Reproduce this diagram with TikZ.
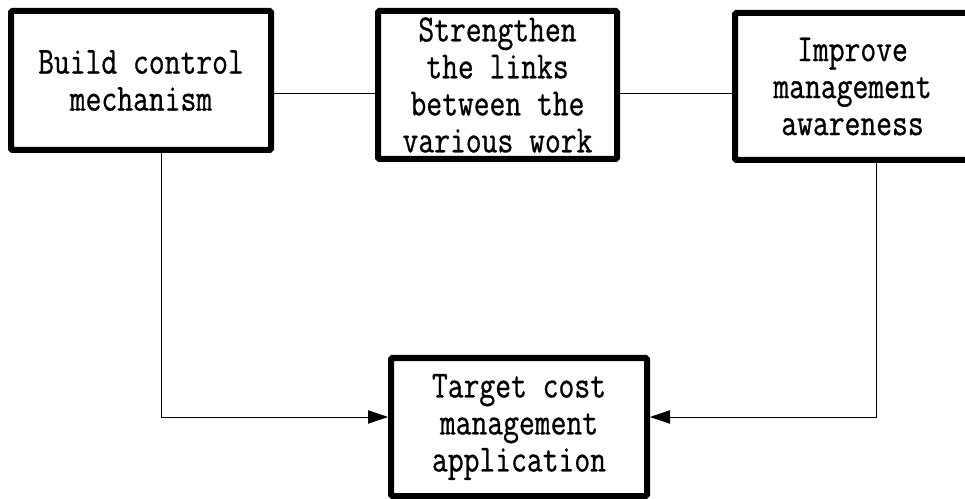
\documentclass[tikz,border=0pt]{standalone}
\usepackage{fontspec}
\usetikzlibrary{arrows.meta}
\newfontfamily\boxfont[FakeStretch=0.8,FakeBold=0.7]{Latin Modern Mono}
\begin{document}
\begin{tikzpicture}[x=0.75pt,y=-0.75pt,
  taskbox/.style={draw=black,line width=4.5pt,rounded corners=1pt,
    rectangle,inner sep=0pt,align=center,
    font=\boxfont\fontsize{28.8pt}{27.75pt}\selectfont},
  link/.style={draw=black,line width=0.6pt},
  feed/.style={link,-{Triangle[length=15pt,width=10pt]}}]
\useasboundingbox (0,0) rectangle (965,499);

\node[taskbox,minimum width=195pt,minimum height=104.25pt] (b1) at (141,80.5)
  {Build control\\mechanism};
\node[taskbox,minimum width=179.25pt,minimum height=111pt] (b2) at (497.5,85)
  {Strengthen\\the links\\between the\\various work};
\node[taskbox,minimum width=176.25pt,minimum height=110.25pt] (b3) at (852.5,86.5)
  {Improve\\management\\awareness};
\node[taskbox,minimum width=192pt,minimum height=103.5pt] (b4) at (519,427)
  {Target cost\\management\\application};

\coordinate (lft) at (161,417);
\coordinate (rgt) at (876,417);

\draw[link] (b1.east |- 0,93) -- (b2.west |- 0,93);
\draw[link] (b2.east |- 0,93) -- (b3.west |- 0,93);
\draw[feed] (b1.south -| lft) -- (lft) -- (b4.west |- lft);
\draw[feed] (b3.south -| rgt) -- (rgt) -- (b4.east |- rgt);
\end{tikzpicture}
\end{document}
